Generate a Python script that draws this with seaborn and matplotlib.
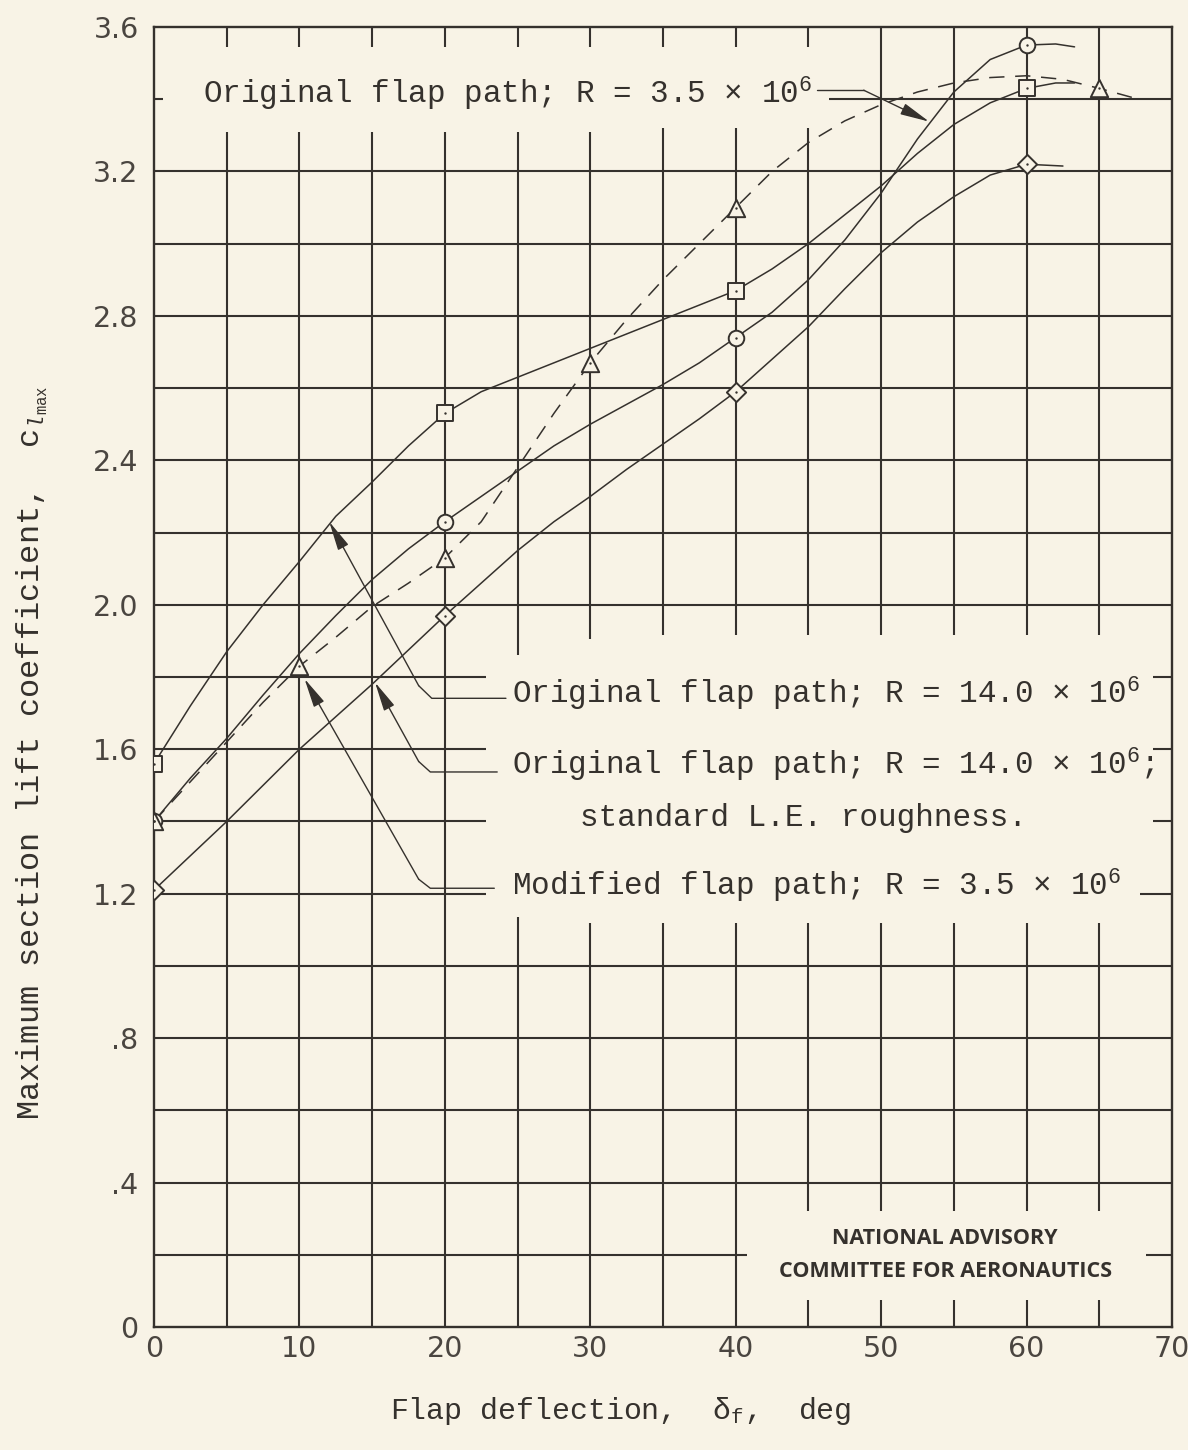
import matplotlib
matplotlib.use('Agg')
import matplotlib.pyplot as plt
import seaborn as sns
import pandas as pd

# test points: flap deflection (deg) and maximum section lift coefficient
sq_x = [0, 20, 40, 60]
sq_y = [1.56, 2.53, 2.87, 3.43]
ci_x = [0, 20, 40, 60]
ci_y = [1.40, 2.23, 2.74, 3.55]
tr_x = [0, 10, 20, 30, 40, 65]
tr_y = [1.40, 1.83, 2.13, 2.67, 3.10, 3.43]
di_x = [0, 20, 40, 60]
di_y = [1.21, 1.97, 2.59, 3.22]

# faired curves
sq_fx = [0, 2.5, 5, 7.5, 10, 12.5, 15, 17.5, 20, 22.5, 25, 27.5, 30, 32.5, 35, 37.5,
         40, 42.5, 45, 47.5, 50, 52.5, 55, 57.5, 60, 62, 63.3]
sq_fy = [1.56, 1.72, 1.87, 2.00, 2.12, 2.245, 2.34, 2.44, 2.53, 2.59, 2.63, 2.67, 2.71,
         2.75, 2.79, 2.83, 2.87, 2.93, 3.00, 3.08, 3.16, 3.25, 3.33, 3.39, 3.43, 3.445, 3.445]
ci_fx = [0, 2.5, 5, 7.5, 10, 12.5, 15, 17.5, 20, 22.5, 25, 27.5, 30, 32.5, 35, 37.5,
         40, 42.5, 45, 47.5, 50, 52.5, 55, 57.5, 60, 62, 63.3]
ci_fy = [1.40, 1.52, 1.63, 1.75, 1.865, 1.97, 2.07, 2.155, 2.23, 2.30, 2.37, 2.44, 2.50,
         2.555, 2.61, 2.67, 2.74, 2.81, 2.90, 3.01, 3.14, 3.29, 3.42, 3.51, 3.55, 3.553, 3.545]
tr_fx = [0, 2.5, 5, 7.5, 10, 12.5, 15, 17.5, 20, 22.5, 25, 27.5, 30, 32.5, 35, 37.5,
         40, 42.5, 45, 47.5, 50, 52.5, 55, 57.5, 60, 62.5, 65, 67.7]
tr_fy = [1.40, 1.51, 1.62, 1.73, 1.83, 1.91, 1.995, 2.06, 2.13, 2.23, 2.38, 2.53, 2.67,
         2.79, 2.90, 3.00, 3.10, 3.20, 3.28, 3.34, 3.385, 3.42, 3.445, 3.46, 3.465, 3.455, 3.43, 3.40]
di_fx = [0, 2.5, 5, 7.5, 10, 12.5, 15, 17.5, 20, 22.5, 25, 27.5, 30, 32.5, 35, 37.5,
         40, 42.5, 45, 47.5, 50, 52.5, 55, 57.5, 60, 62.5]
di_fy = [1.21, 1.305, 1.40, 1.50, 1.60, 1.69, 1.78, 1.875, 1.97, 2.06, 2.15, 2.23, 2.30,
         2.375, 2.445, 2.515, 2.59, 2.68, 2.77, 2.875, 2.975, 3.06, 3.13, 3.19, 3.22, 3.215]

x_ticks = [0, 10, 20, 30, 40, 50, 60, 70]
y_ticks = [0, 0.4, 0.8, 1.2, 1.6, 2.0, 2.4, 2.8, 3.2, 3.6]
y_tick_labels = ['0', '.4', '.8', '1.2', '1.6', '2.0', '2.4', '2.8', '3.2', '3.6']

lbl_top = r'Original flap path; R = 3.5 × 10$^6$'
lbl_r1 = r'Original flap path; R = 14.0 × 10$^6$'
lbl_r2 = r'Original flap path; R = 14.0 × 10$^6$;'
lbl_r3 = 'standard L.E. roughness.'
lbl_r4 = r'Modified flap path; R = 3.5 × 10$^6$'

bg = '#f8f3e6'
ink = '#35312d'

sns.set_theme(style='white')
plt.rcParams['font.family'] = ['Liberation Mono', 'DejaVu Sans']
plt.rcParams['mathtext.fontset'] = 'custom'
plt.rcParams['mathtext.rm'] = 'Liberation Mono'
plt.rcParams['mathtext.it'] = 'Liberation Mono:italic'

fig = plt.figure(figsize=(11.88, 14.5), dpi=100, facecolor=bg)
ax = fig.add_axes([154 / 1188, 1 - 1327 / 1450, 1018 / 1188, 1300 / 1450])
ax.set_facecolor(bg)
ax.set_xlim(0, 70)
ax.set_ylim(0, 3.6)

# grid with the gaps left for the lettering
gw = 1.5
top = [(3.545, 3.6)]
vgrid = {5: [(0, 3.31)] + top, 10: [(0, 3.31)] + top, 15: [(0, 3.31)] + top,
         20: [(0, 3.31)] + top,
         25: [(0, 1.135), (1.86, 3.31)] + top,
         30: [(0, 1.12), (1.905, 3.31)] + top,
         35: [(0, 1.12), (1.915, 3.32)] + top,
         40: [(0, 1.12), (1.915, 3.32)] + top,
         45: [(0, 0.075), (0.32, 1.12), (1.915, 3.32)] + top}
for xv in [50, 55, 60, 65]:
    vgrid[xv] = [(0, 0.075), (0.32, 1.12), (1.915, 3.6)]
for xv, spans in vgrid.items():
    for a, b in spans:
        ax.vlines(xv, a, b, color=ink, lw=gw, zorder=1)

hgrid = {0.2: [(0, 40.8), (68.2, 70)],
         1.2: [(0, 22.8), (67.8, 70)],
         1.4: [(0, 22.8), (68.7, 70)],
         1.6: [(0, 22.8), (68.7, 70)],
         1.8: [(0, 22.8), (68.7, 70)],
         3.4: [(0, 0.6), (46.4, 70)]}
for yv in [0.4, 0.6, 0.8, 1.0, 2.0, 2.2, 2.4, 2.6, 2.8, 3.0, 3.2]:
    hgrid[yv] = [(0, 70)]
for yv, spans in hgrid.items():
    for a, b in spans:
        ax.hlines(yv, a, b, color=ink, lw=gw, zorder=1)

for s in ax.spines.values():
    s.set_visible(True)
    s.set_color(ink)
    s.set_linewidth(1.7)

# faired curves
lw = 1.1
sns.lineplot(x=sq_fx, y=sq_fy, ax=ax, color=ink, lw=lw, estimator=None, sort=False, zorder=3)
sns.lineplot(x=ci_fx, y=ci_fy, ax=ax, color=ink, lw=lw, estimator=None, sort=False, zorder=3)
sns.lineplot(x=di_fx, y=di_fy, ax=ax, color=ink, lw=lw, estimator=None, sort=False, zorder=3)
sns.lineplot(x=tr_fx, y=tr_fy, ax=ax, color=ink, lw=lw, estimator=None, sort=False,
             linestyle=(0, (10, 7)), zorder=3)

# test points
for xs, ys, mk, ms in [(ci_x, ci_y, 'o', 11.2), (sq_x, sq_y, 's', 11.0),
                       (di_x, di_y, 'D', 9.8), (tr_x, tr_y, '^', 12.5)]:
    sns.scatterplot(x=xs, y=ys, ax=ax, marker=mk, s=ms ** 2, color=bg,
                    edgecolor=ink, linewidth=1.4, zorder=5)
    sns.scatterplot(x=xs, y=ys, ax=ax, marker='o', s=3, color=ink, linewidth=0, zorder=6)

# leaders with arrows
def leader(pts, tip):
    ax.plot([p[0] for p in pts], [p[1] for p in pts], color=ink, lw=1.0, zorder=4)
    ax.annotate('', xy=tip, xytext=pts[-1],
                arrowprops=dict(arrowstyle='-|>,head_length=1.0,head_width=0.2',
                                color=ink, lw=1.0, shrinkA=0, shrinkB=0,
                                mutation_scale=18), zorder=4)

leader([(45.6, 3.425), (48.8, 3.425)], (53.3, 3.338))
leader([(24.2, 1.741), (19.1, 1.741), (18.2, 1.776)], (12.05, 2.23))
leader([(23.6, 1.537), (19.0, 1.537), (18.2, 1.566)], (15.2, 1.785))
leader([(23.4, 1.215), (19.0, 1.215), (18.2, 1.24)], (10.35, 1.795))

fs = 22.3
ax.text(3.4, 3.415, lbl_top, fontsize=fs, va='center', ha='left', color=ink)
ax.text(24.6, 1.752, lbl_r1, fontsize=fs, va='center', ha='left', color=ink)
ax.text(24.6, 1.557, lbl_r2, fontsize=fs, va='center', ha='left', color=ink)
ax.text(29.3, 1.41, lbl_r3, fontsize=fs, va='center', ha='left', color=ink)
ax.text(24.6, 1.222, lbl_r4, fontsize=fs, va='center', ha='left', color=ink)

naca = dict(family=['Open Sans', 'DejaVu Sans'], weight='bold', fontsize=15.5,
            ha='center', va='center', color=ink)
ax.text(54.4, 0.245, 'NATIONAL ADVISORY', **naca)
ax.text(54.4, 0.155, 'COMMITTEE FOR AERONAUTICS', **naca)

ax.set_xticks(x_ticks)
ax.set_yticks(y_ticks)
ax.set_yticklabels(y_tick_labels)
ax.tick_params(length=0, labelsize=20.5, labelcolor='#4a4540')
ax.tick_params(axis='y', pad=11)
ax.tick_params(axis='x', pad=6)
for t in ax.get_xticklabels() + ax.get_yticklabels():
    t.set_family(['DejaVu Sans'])

ax.set_xlabel(r'Flap deflection,  $\mathrm{\delta}_{\mathrm{f}}$,  deg', fontsize=21.5, color=ink)
ax.xaxis.set_label_coords(0.458, -0.052)
ax.set_ylabel(r'Maximum section lift coefficient,  $\mathrm{c}_{l_{\mathrm{max}}}$',
              fontsize=23, color=ink)
ax.yaxis.set_label_coords(-0.102, 0.442)

fig.savefig('out.png', dpi=100, facecolor=bg)
